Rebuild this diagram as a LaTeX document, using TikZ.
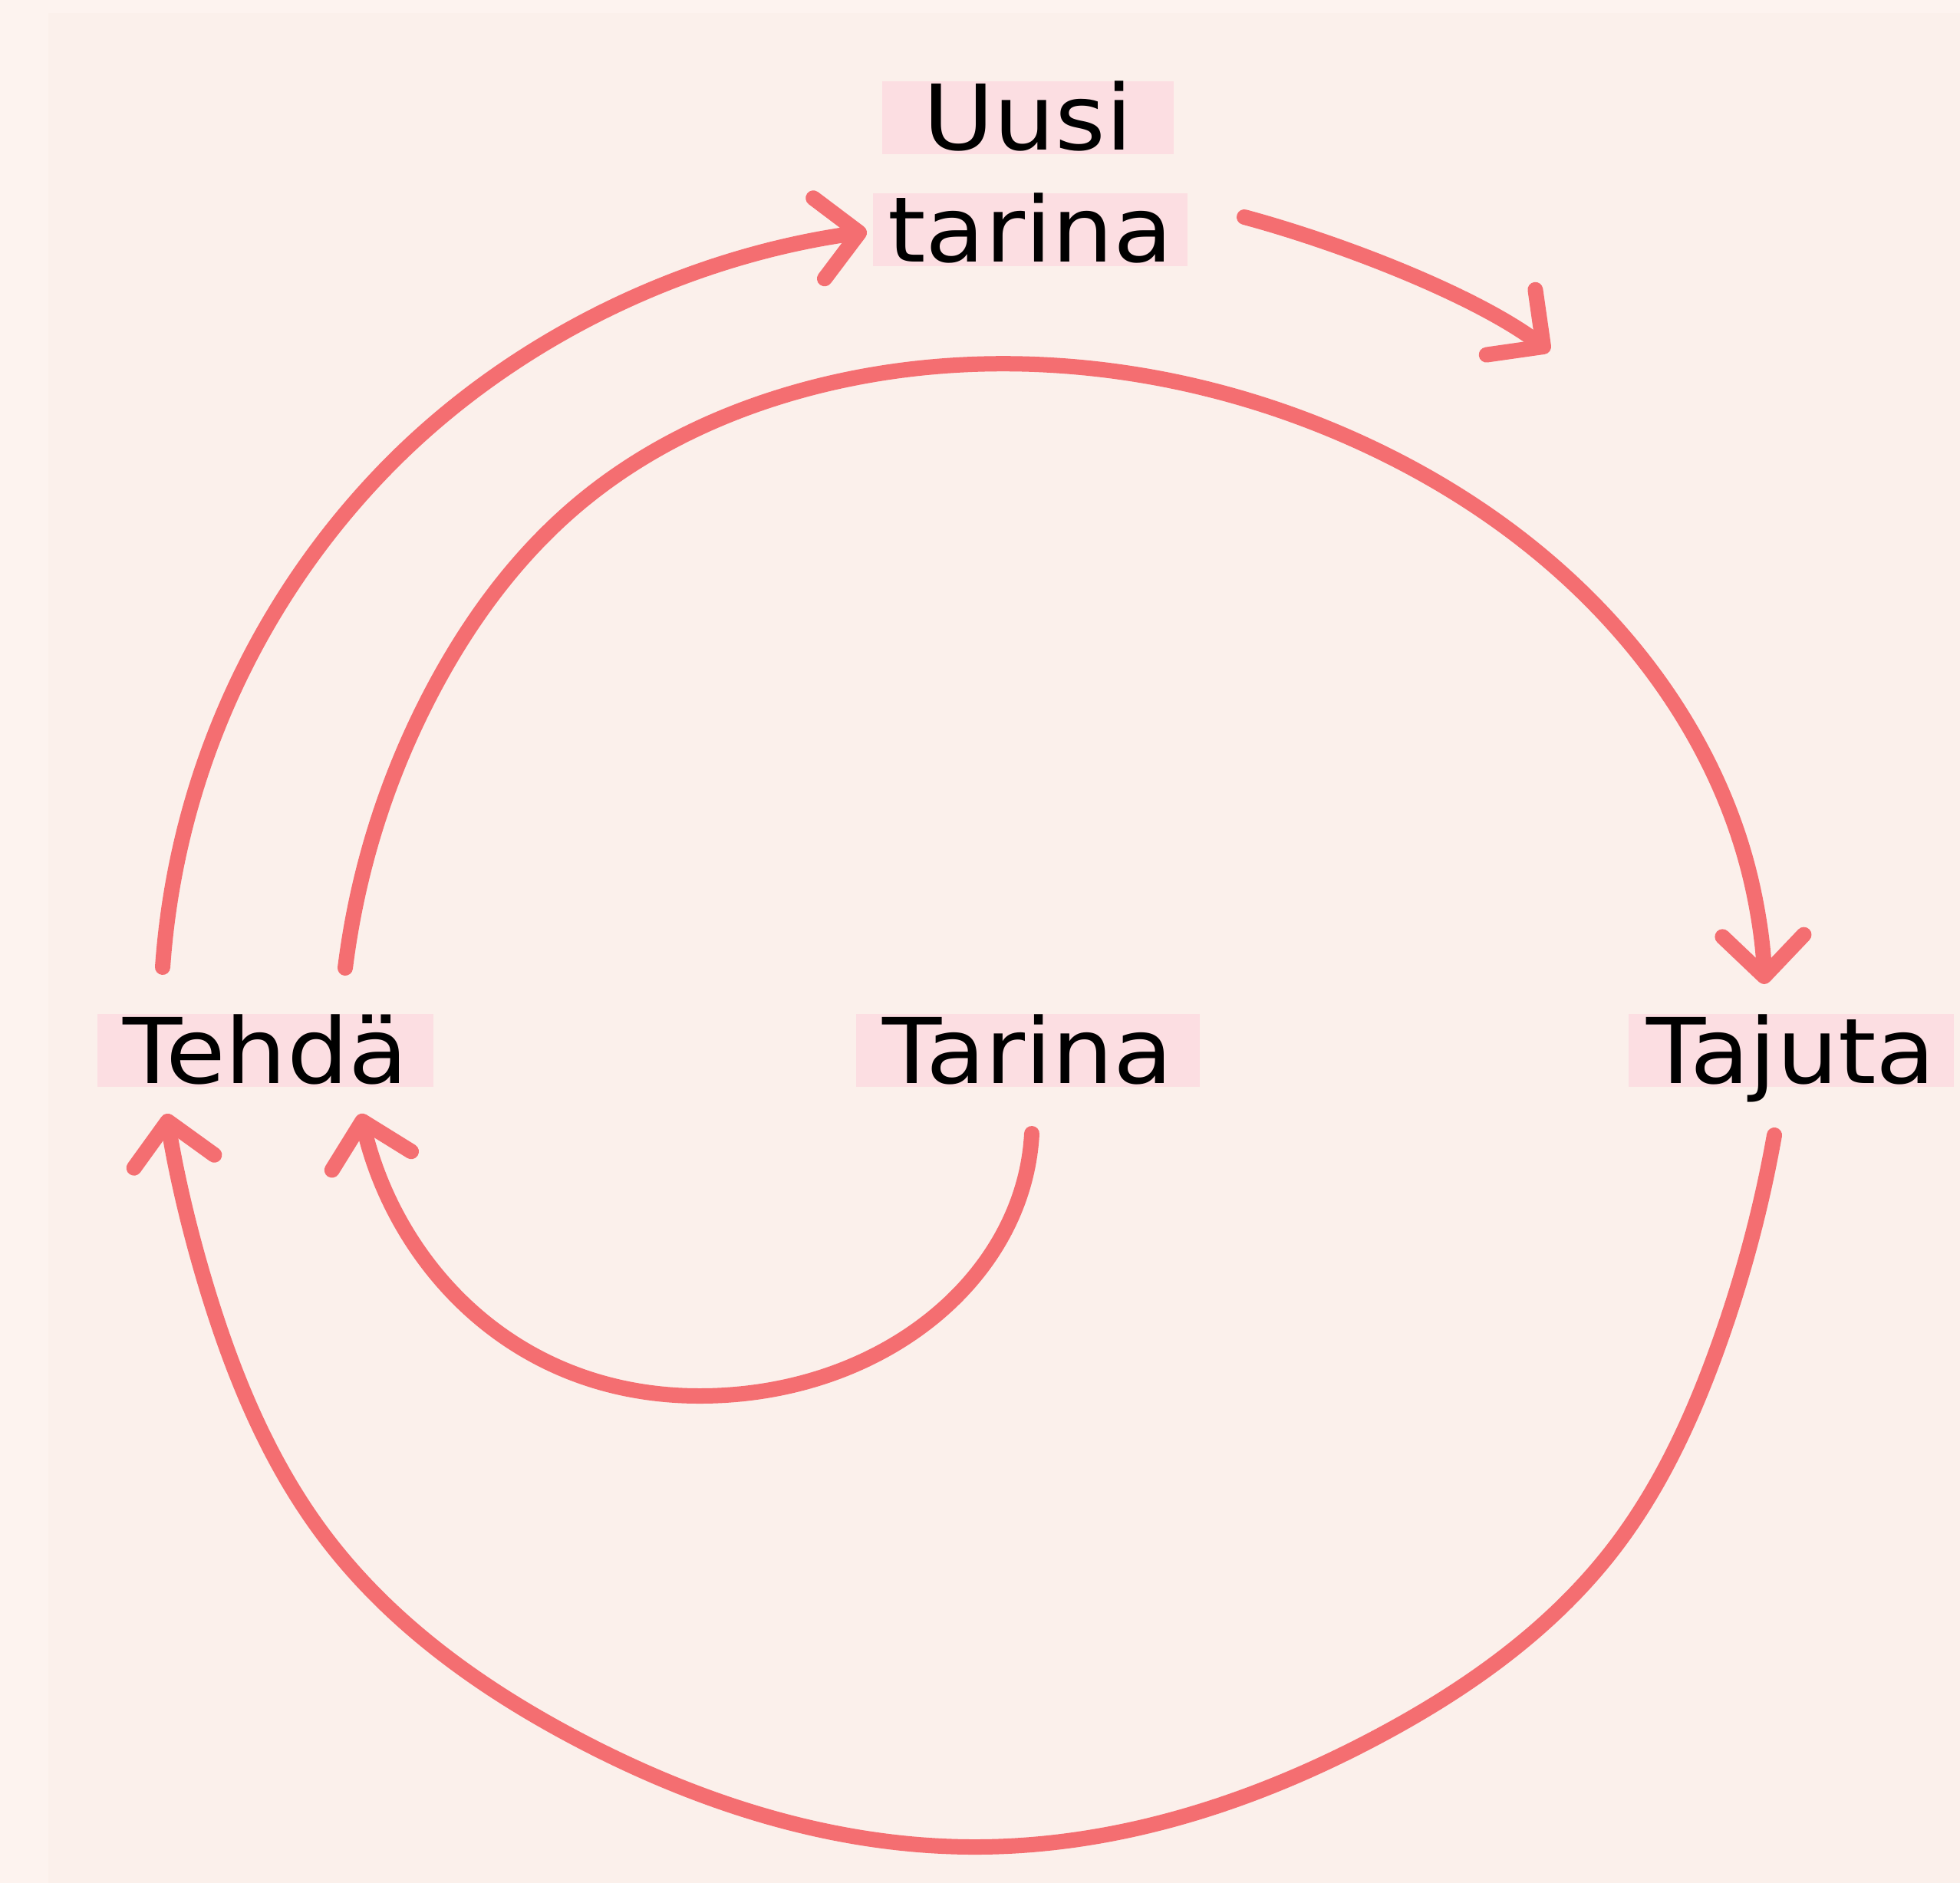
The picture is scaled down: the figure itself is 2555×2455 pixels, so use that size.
\documentclass[tikz,border=0pt]{standalone}
\usepackage{fontspec}
\setmainfont{DejaVu Sans}[FakeStretch=1.07]
\usetikzlibrary{arrows.meta,hobby}
\definecolor{bgout}{RGB}{253,243,239}
\definecolor{bgin}{RGB}{251,240,235}
\definecolor{chalk}{RGB}{244,110,113}
\definecolor{hl}{RGB}{252,222,226}
\begin{document}
\begin{tikzpicture}[x=0.01cm,y=-0.01cm,
  lbl/.style={fill=hl, text=black, font=\fontsize{33.6}{40}\selectfont,
    text height=0.9cm, text depth=0.05cm, inner ysep=0pt, inner xsep=0pt, anchor=base},
  chalkarrow/.style={draw=chalk, line width=0.2cm, line cap=round, line join=round,
    -{Straight Barb[length=5.3mm,width=10.6mm,round]}}]
\useasboundingbox (0,0) rectangle (2555,2455);
\fill[bgout] (0,0) rectangle (2555,2455);
\fill[bgin] (63,17) rectangle (2555,2455);

\node[lbl, minimum width=3.8cm] (uusi) at (1340,196) {Uusi};
\node[lbl, minimum width=4.1cm] (uusitarina) at (1343,342) {tarina};
\node[lbl, minimum width=4.38cm] (tehda) at (346,1412) {Tehdä};
\node[lbl, minimum width=4.48cm] (tarina) at (1340,1412) {Tarina};
\node[lbl, minimum width=4.24cm] (tajuta) at (2335,1412) {Tajuta};

% arrow A: Tehda -> Uusi tarina (circular arc)
\coordinate (a0) at (212,1261);
\coordinate (am) at (498,616);
\coordinate (a1) at (1130,302);
\draw[chalkarrow] (a0) .. controls (229,1019) and (330,791) .. (am)
  .. controls (666,441) and (895,335) .. (a1);

% arrow B: Uusi tarina -> onward
\coordinate (b0) at (1622,283);
\coordinate (b1) at (2020,458);
\draw[chalkarrow] (b0) .. controls (1752,318) and (1924,386) .. (b1);

% arrow C: Tehda -> Tajuta (big upper arc)
\coordinate (c0) at (450,1262);
\coordinate (ct) at (1385,477);
\coordinate (c1) at (2300,1283);
\draw[chalkarrow, use Hobby shortcut] (c0) .. (564,900) .. (753,658) .. (1045,509) .. (ct)
  .. (1780,580) .. (2118,831) .. (2281,1141) .. (c1);

% arrow D: Tajuta -> Tehda (big lower arc)
\coordinate (d0) at (2313,1480);
\coordinate (db) at (1267,2408);
\coordinate (d1) at (217,1452);
\draw[chalkarrow, use Hobby shortcut] (d0) .. (2238,1760) .. (2102,2021) .. (1800,2262) .. (db)
  .. (750,2266) .. (424,2004) .. (276,1700) .. (d1);

% arrow E: Tarina -> Tehda (small inner arc)
\coordinate (e0) at (1345,1478);
\coordinate (eb) at (912,1820);
\coordinate (e1) at (470,1452);
\draw[chalkarrow] (e0) .. controls (1335,1666) and (1150,1820) .. (eb)
  .. controls (669,1820) and (516,1648) .. (e1);
\end{tikzpicture}
\end{document}
